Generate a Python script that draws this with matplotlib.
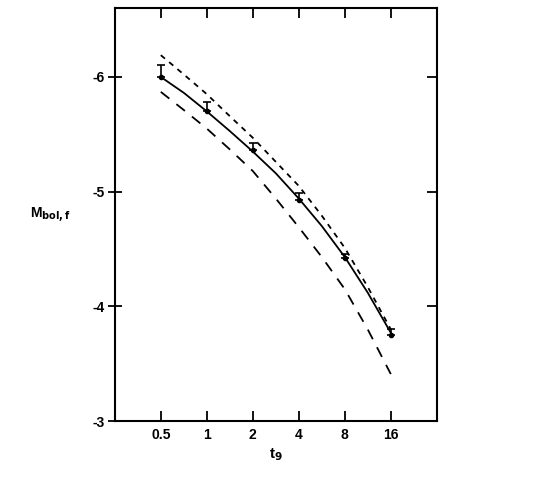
import numpy as np
from matplotlib import pyplot as plt
from matplotlib import lines as mlines

# t9 (Gyr) and bolometric magnitudes
t9 = [0.5, 1, 2, 4, 8, 16]
m_points = [-6.00, -5.70, -5.36, -4.93, -4.42, -3.75]
err_up = [0.10, 0.08, 0.06, 0.06, 0.04, 0.05]

# curves read at half-octave steps
t9_curve = [0.5, 0.71, 1, 1.41, 2, 2.83, 4, 5.66, 8, 11.3, 16]
m_solid = [-6.00, -5.86, -5.70, -5.53, -5.35, -5.16, -4.94, -4.70, -4.43, -4.12, -3.77]
m_short = [-6.19, -6.02, -5.85, -5.66, -5.47, -5.26, -5.05, -4.79, -4.51, -4.17, -3.80]
m_long = [-5.87, -5.71, -5.55, -5.37, -5.18, -4.94, -4.69, -4.43, -4.15, -3.80, -3.41]

tick_labels = ['0.5', '1', '2', '4', '8', '16']
y_ticks = [-6, -5, -4, -3]

plt.rcParams['font.family'] = ['Liberation Sans', 'DejaVu Sans']
fig = plt.figure(figsize=(5.6, 4.78), dpi=100)
ax = fig.add_axes([0.205, 0.119, 0.575, 0.864])

ax.plot(t9_curve, m_solid, color='black', lw=1.3)
ax.plot(t9_curve, m_short, color='black', lw=1.3, linestyle=(0, (3, 3)))
ax.plot(t9_curve, m_long, color='black', lw=1.3, linestyle=(0, (6, 5)))
# error bars only towards brighter (more negative) magnitudes
ax.errorbar(t9, m_points, yerr=[err_up, np.zeros(len(err_up))],
            fmt='o', ms=3, color='black', capsize=3, elinewidth=1.2,
            capthick=1.2)

ax.set_xscale('log', base=2)
ax.set_xlim(0.25, 32)
ax.set_ylim(-3, -6.6)

ax.set_xticks(t9)
ax.set_xticklabels(tick_labels)
ax.minorticks_off()
ax.set_yticks(y_ticks)
ax.set_yticklabels([str(v) for v in y_ticks])

ax.tick_params(axis='x', direction='in', top=True, length=7, width=1.3,
               labelsize=10, pad=5)
ax.tick_params(axis='y', direction='inout', right=True, length=10, width=1.3,
               labelsize=10, pad=2)
# left ticks cross the frame, right ticks point inwards only
for tk in ax.yaxis.get_major_ticks():
    tk.tick2line.set_marker(mlines.TICKLEFT)
    tk.tick2line.set_markersize(7)
for lab in ax.get_xticklabels() + ax.get_yticklabels():
    lab.set_fontweight('bold')
for s in ax.spines.values():
    s.set_linewidth(1.5)

ax.set_xlabel('t$_\\mathbf{9}$', fontsize=11, fontweight='bold', labelpad=3)
ax.set_ylabel('M$_\\mathbf{bol,f}$', fontsize=10, fontweight='bold',
              rotation=0, ha='center', va='center')
ax.yaxis.set_label_coords(-0.2, 0.50)

fig.savefig('out.png', dpi=100)
